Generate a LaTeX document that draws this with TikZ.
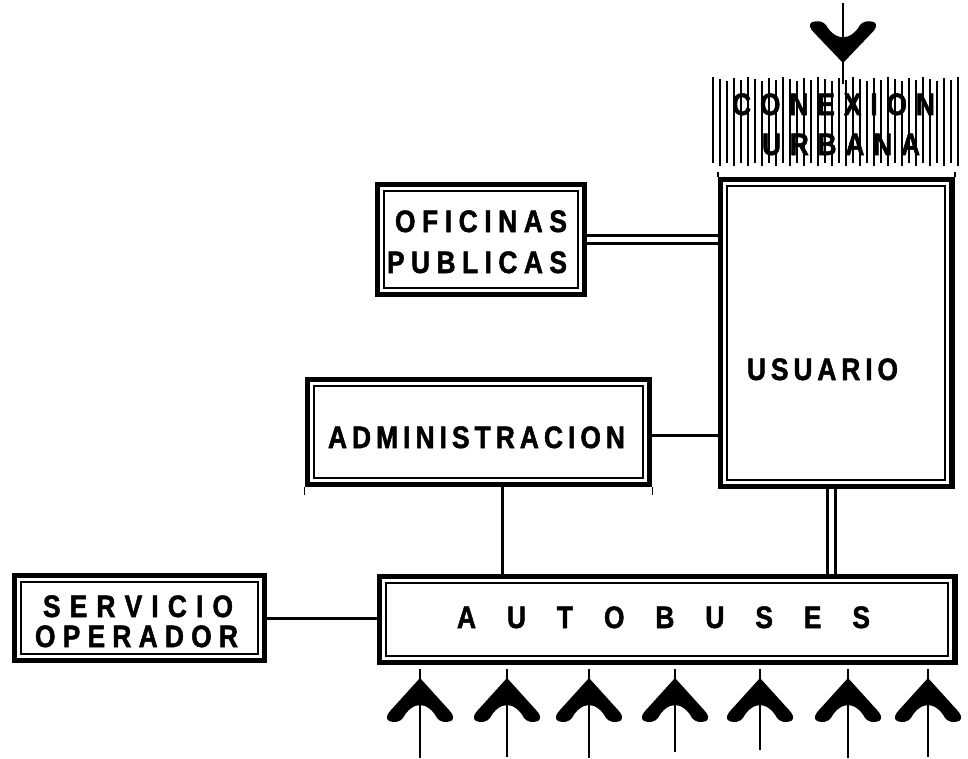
\documentclass[tikz,border=0pt]{standalone}
\usepackage{fontspec}
\setmainfont{Liberation Sans}
\newfontfamily\lblfont[FakeStretch=0.85,FakeBold=1.6]{Liberation Sans Bold}
\newcommand\spreadword[2]{\makebox[#1][s]{#2}}
\tikzset{
  box/.style 2 args={draw, line width=5.5pt, outer sep=2.75pt, inner sep=0pt,
    minimum width=#1pt, minimum height=#2pt},
  innerline/.style={line width=2pt},
  single/.style={line width=3pt},
  dbl/.style={line width=3pt, double, double distance=5pt},
  shaft/.style={line width=1.5pt},
  lbl/.style={font={\lblfont\fontsize{31pt}{31pt}\selectfont}, inner sep=0pt, anchor=base},
  vane/.pic={\fill (0,0) -- (29,32) .. controls (33,36) and (35,41) .. (31,43)
     .. controls (26,45) and (20,44) .. (17,40)
     .. controls (13,32) and (6,27) .. (0,27)
     .. controls (-6,27) and (-13,32) .. (-17,40)
     .. controls (-20,44) and (-26,45) .. (-31,43)
     .. controls (-35,41) and (-33,36) .. (-29,32) -- cycle;}
}
\begin{document}
\begin{tikzpicture}[x=1pt,y=-1pt]
\useasboundingbox (0,0) rectangle (968,758);

% hatched area
\foreach \k in {0,...,35} {
  \pgfmathsetmacro\xx{713+7*\k}
  \pgfmathsetmacro\ya{77+mod(\k*7,5)}
  \pgfmathsetmacro\yb{163+mod(\k*3,6)}
  \pgfmathsetmacro\lw{ifthenelse(mod(\k,3)==0,1.8,1.2)}
  \draw[line width=\lw pt] (\xx,\ya) -- (\xx,\yb);
}
\node[lbl] (t-con) at (833.5,115) {\spreadword{203pt}{C\hfill O\hfill N\hfill E\hfill X\hfill I\hfill O\hfill N}};
\node[lbl] (t-urb) at (841,155) {\spreadword{158pt}{U\hfill R\hfill B\hfill A\hfill N\hfill A}};

% top arrow
\coordinate (tt) at (843,3);
\coordinate (tb) at (843,84);
\draw[shaft] (tt) -- (tb);
\pic[yscale=-0.95] at (843,63) {vane};

% boxes
\node[box={207}{110}] (ofi) at (481,239.5) {};
\node[box={231.5}{307}] (usu) at (836.25,333) {};
\node[box={342}{105}] (adm) at (478.5,432) {};
\node[box={250}{85}] (ser) at (139.5,618) {};
\node[box={575.5}{86}] (aut) at (667.25,619.5) {};
\foreach \n in {ofi,usu,adm,ser,aut}
  \draw[innerline] ([xshift=9.5pt,yshift=-9.5pt]\n.north west) rectangle ([xshift=-9.5pt,yshift=9.5pt]\n.south east);

% corner ticks
\draw[line width=1.5pt] (usu.north west) -- ++(0,-5);
\draw[line width=1.5pt] (usu.north east) -- ++(0,-5);
\draw[line width=1.2pt] (adm.south west) -- ++(0,8);
\draw[line width=1.2pt] (adm.south east) -- ++(0,8);

% labels
\node[lbl] (t-ofi) at (481,232) {\spreadword{172pt}{O\hfill F\hfill I\hfill C\hfill I\hfill N\hfill A\hfill S}};
\node[lbl] (t-pub) at (477,273) {\spreadword{180pt}{P\hfill U\hfill B\hfill L\hfill I\hfill C\hfill A\hfill S}};
\node[lbl] (t-usu) at (822.5,380) {\spreadword{151pt}{U\hfill S\hfill U\hfill A\hfill R\hfill I\hfill O}};
\node[lbl] (t-adm) at (476.5,448) {\spreadword{297pt}{A\hfill D\hfill M\hfill I\hfill N\hfill I\hfill S\hfill T\hfill R\hfill A\hfill C\hfill I\hfill O\hfill N}};
\node[lbl] (t-ser) at (138,617) {\spreadword{190pt}{S\hfill E\hfill R\hfill V\hfill I\hfill C\hfill I\hfill O}};
\node[lbl] (t-ope) at (136.5,647) {\spreadword{203pt}{O\hfill P\hfill E\hfill R\hfill A\hfill D\hfill O\hfill R}};
\node[lbl] (t-aut) at (663.5,628) {\spreadword{413pt}{A\hfill U\hfill T\hfill O\hfill B\hfill U\hfill S\hfill E\hfill S}};

% connectors
\draw[dbl] (ofi.east) -- (ofi.east -| usu.west);
\draw[single] ([yshift=-3pt]adm.east) coordinate (ae) -- (ae -| usu.west);
\draw[single] ([xshift=23.5pt]adm.south) coordinate (as) -- (as |- aut.north);
\draw[dbl] ([xshift=-5pt]usu.south) coordinate (us) -- (us |- aut.north);
\draw[single] (ser.east) -- (ser.east -| aut.west);

% bottom arrows
\foreach \x/\yb [count=\i] in {420/758,507/757,589/758,675/752,760/750,848/758,928/757} {
  \coordinate (st\i) at (\x,669);
  \coordinate (sb\i) at (\x,\yb);
  \pic at (\x,678) {vane};
  \draw[shaft] (st\i) -- (sb\i);
}
\end{tikzpicture}
\end{document}
